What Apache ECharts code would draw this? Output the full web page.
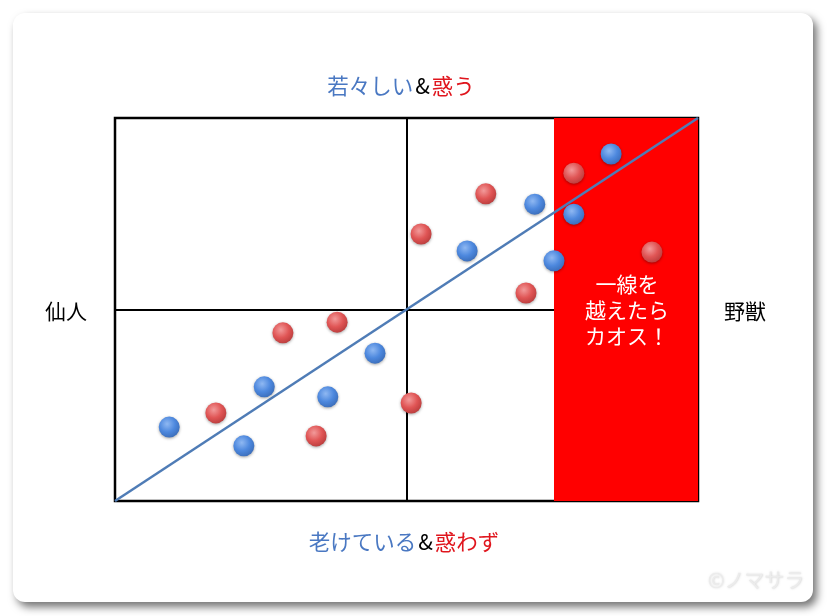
<!DOCTYPE html>
<html>
<head>
<meta charset="utf-8">
<title>若々しい&惑う</title>
<script src="https://cdn.jsdelivr.net/npm/echarts@6/dist/echarts.min.js"></script>
<style>
	html, body { margin:0; padding:0; background:#fff; }
	#main { width:828px; height:616px; }
</style>
</head>
<body>
<div id="main"></div>
<script>
	// 点の位置 (0-100 の尺度)
	var blueX = [9.3, 22.1, 25.6, 36.5, 44.6, 60.4, 72.0, 75.3, 78.7, 85.1];
	var blueY = [19.3, 14.4, 29.8, 27.2, 38.6, 65.3, 77.5, 62.7, 74.9, 90.6];
	var redX = [17.3, 28.8, 38.1, 34.5, 50.8, 52.5, 63.6, 70.5, 78.7, 92.1];
	var redY = [23.0, 43.9, 46.7, 17.0, 25.6, 69.7, 80.2, 54.3, 85.6, 65.0];
	var trendX = [0, 100];
	var trendY = [0, 100];
	var chaosFrom = 75.3;
	var chaosTo = 100;
	var chaosText = "一線を\n越えたら\nカオス！";
	var font = '"Noto Sans CJK JP", "Noto Sans", sans-serif';

	function pairs(xs, ys){
		var out = [];
		for(var i=0;i<xs.length;i++){
			out.push([xs[i], ys[i]]);
		}
		return out;
	}

	function ball(light, base, dark){
		return {
			type: 'radial', x: 0.4, y: 0.35, r: 0.7,
			colorStops: [
				{offset: 0, color: light},
				{offset: 0.55, color: base},
				{offset: 1, color: dark}
			]
		};
	}

	var myChart = echarts.init(document.getElementById('main'));
	myChart.setOption({
		animation: false,
		backgroundColor: '#fff',
		grid: {
			left: 115, top: 118, width: 583, height: 383,
			show: true, borderColor: '#000', borderWidth: 2.5, backgroundColor: 'transparent'
		},
		xAxis: {
			type: 'value', min: 0, max: 100, interval: 50,
			axisLine: {show: false}, axisTick: {show: false}, axisLabel: {show: false},
			splitLine: {show: true, lineStyle: {color: '#000', width: 2}}
		},
		yAxis: {
			type: 'value', min: 0, max: 100, interval: 50,
			axisLine: {show: false}, axisTick: {show: false}, axisLabel: {show: false},
			splitLine: {show: true, lineStyle: {color: '#000', width: 2}}
		},
		graphic: [
			{
				type: 'rect', z: -10, silent: true,
				shape: {x: 13, y: 13, width: 800, height: 589, r: 12},
				style: {fill: '#fff', shadowBlur: 8, shadowOffsetX: 4, shadowOffsetY: 5, shadowColor: 'rgba(0,0,0,0.55)'}
			},
			{
				type: 'text', x: 401, y: 86, z: 100,
				style: {
					text: '{b|若々しい}{k|&}{r|惑う}',
					align: 'center', verticalAlign: 'middle',
					rich: {
						b: {fill: '#4a78c2', fontSize: 21.5, fontFamily: font},
						k: {fill: '#000', fontSize: 21.5, fontFamily: font, padding: [0, 2]},
						r: {fill: '#e0161e', fontSize: 21.5, fontFamily: font}
					}
				}
			},
			{
				type: 'text', x: 404, y: 542, z: 100,
				style: {
					text: '{b|老けている}{k|&}{r|惑わず}',
					align: 'center', verticalAlign: 'middle',
					rich: {
						b: {fill: '#4a78c2', fontSize: 21.5, fontFamily: font},
						k: {fill: '#000', fontSize: 21.5, fontFamily: font, padding: [0, 2]},
						r: {fill: '#e0161e', fontSize: 21.5, fontFamily: font}
					}
				}
			},
			{
				type: 'text', x: 66, y: 311, z: 100,
				style: {text: '仙人', fill: '#000', fontSize: 21, fontFamily: font, align: 'center', verticalAlign: 'middle'}
			},
			{
				type: 'text', x: 745, y: 311, z: 100,
				style: {text: '野獣', fill: '#000', fontSize: 21, fontFamily: font, align: 'center', verticalAlign: 'middle'}
			},
			{
				type: 'text', x: 756, y: 580, z: 100,
				style: {text: '©ノマサラ', fill: '#ececec', fontSize: 20, fontFamily: font, align: 'center', verticalAlign: 'middle',
					textShadowColor: 'rgba(0,0,0,0.18)', textShadowBlur: 2, textShadowOffsetX: 0.5, textShadowOffsetY: 0.5}
			}
		],
		series: [
			{
				type: 'line', z: 3,
				data: [],
				markArea: {
					silent: true,
					itemStyle: {color: '#ff0000', opacity: 1},
					label: {
						show: true, position: 'inside',
						formatter: chaosText,
						color: '#fff', fontSize: 21, lineHeight: 26, fontFamily: font,
						offset: [1, 1]
					},
					data: [[{xAxis: chaosFrom, yAxis: 0}, {xAxis: chaosTo, yAxis: 100}]]
				}
			},
			{
				type: 'line', z: 4,
				data: pairs(trendX, trendY),
				symbol: 'none',
				lineStyle: {color: '#4f7cb6', width: 2.5}
			},
			{
				type: 'scatter', z: 5,
				data: pairs(blueX, blueY),
				symbolSize: 21,
				itemStyle: {
					opacity: 1,
					color: ball('#8fb8f2', '#4d88de', '#3a6cb8'),
					shadowBlur: 3, shadowOffsetY: 1, shadowColor: 'rgba(0,0,0,0.35)'
				}
			},
			{
				type: 'scatter', z: 5,
				data: pairs(redX, redY),
				symbolSize: 21,
				itemStyle: {
					opacity: 1,
					color: ball('#f29a9a', '#e05555', '#b83c3c'),
					shadowBlur: 3, shadowOffsetY: 1, shadowColor: 'rgba(0,0,0,0.35)'
				}
			}
		]
	});
</script>
</body>
</html>
